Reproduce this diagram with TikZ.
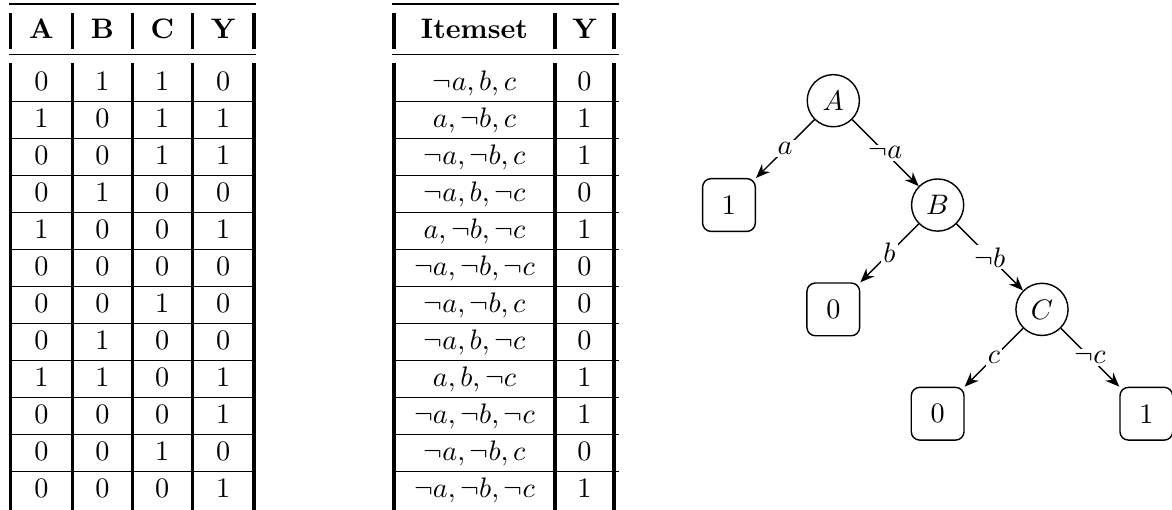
\documentclass[tikz,border=0pt]{standalone}
\usepackage{amsmath, amssymb}
\usepackage{tikz}
\usetikzlibrary{positioning, arrows.meta}
\tikzset{
  cell/.style={anchor=base, inner sep=0pt},
  head/.style={cell, font=\bfseries},
  vbar/.style={draw=black, line width=1.2pt},
  hbar/.style={draw=black, line width=0.4pt},
  toprl/.style={draw=black, line width=0.8pt},
  midrl/.style={draw=black, line width=0.5pt},
  test/.style={circle, draw, line width=0.5pt, minimum size=18.5pt, inner sep=1pt},
  leaf/.style={rectangle, draw, line width=0.5pt, rounded corners=3pt,
    minimum size=18.7pt, inner sep=1pt},
  branch/.style={draw, line width=0.5pt, -{Stealth[length=5pt, width=4pt]}},
  blbl/.style={midway, fill=white, inner sep=0.8pt},
}
% one table row: index, then the cells; baseline follows the row index
\newcommand{\bitrow}[5]{%
  \node[cell] (a#1) at (41.4, {53.6+37*#1}) {#2};
  \node[cell] (b#1) at (102.3, {53.6+37*#1}) {#3};
  \node[cell] (c#1) at (162.3, {53.6+37*#1}) {#4};
  \node[cell] (y#1) at (223.2, {53.6+37*#1}) {#5};
}
\newcommand{\itemrow}[3]{%
  \node[cell] (is#1) at (474.5, {53.6+37*#1}) {$#2$};
  \node[cell] (iy#1) at (584.5, {53.6+37*#1}) {#3};
}

\begin{document}
\begin{tikzpicture}[x=0.3546pt, y=-0.3546pt, >=Stealth]
\useasboundingbox (0,0) rectangle (1172,510);

% Table des valeurs binaires
\draw[toprl] (9,4.2) -- (255.7,4.2);
\draw[midrl] (9,54.3) -- (255.7,54.3);
\node[head] (hA) at (41.4,38.3) {A};
\node[head] (hB) at (102.3,38.3) {B};
\node[head] (hC) at (162.3,38.3) {C};
\node[head] (hY) at (223.2,38.3) {Y};
\draw[vbar] (10.5,13) -- (10.5,49.3);
\draw[vbar] (72.3,13) -- (72.3,49.3);
\draw[vbar] (132.3,13) -- (132.3,49.3);
\draw[vbar] (192.3,13) -- (192.3,49.3);
\draw[vbar] (254,13) -- (254,49.3);
\draw[vbar] (10.5,63.3) -- (10.5,510);
\draw[vbar] (72.3,63.3) -- (72.3,510);
\draw[vbar] (132.3,63.3) -- (132.3,510);
\draw[vbar] (192.3,63.3) -- (192.3,510);
\draw[vbar] (254,63.3) -- (254,510);
\foreach \k in {1,...,11}
  \draw[hbar] (9,{64.7+37*\k}) -- (255.7,{64.7+37*\k});

\bitrow{1}{0}{1}{1}{0}
\bitrow{2}{1}{0}{1}{1}
\bitrow{3}{0}{0}{1}{1}
\bitrow{4}{0}{1}{0}{0}
\bitrow{5}{1}{0}{0}{1}
\bitrow{6}{0}{0}{0}{0}
\bitrow{7}{0}{0}{1}{0}
\bitrow{8}{0}{1}{0}{0}
\bitrow{9}{1}{1}{0}{1}
\bitrow{10}{0}{0}{0}{1}
\bitrow{11}{0}{0}{1}{0}
\bitrow{12}{0}{0}{0}{1}

% Table des itemsets
\draw[toprl] (392.3,4.2) -- (619,4.2);
\draw[midrl] (392.3,54.3) -- (619,54.3);
\node[head] (hIs) at (474.5,38.3) {Itemset};
\node[head] (hIy) at (584.5,38.3) {Y};
\draw[vbar] (394,13) -- (394,49.3);
\draw[vbar] (555,13) -- (555,49.3);
\draw[vbar] (614,13) -- (614,49.3);
\draw[vbar] (394,63.3) -- (394,510);
\draw[vbar] (555,63.3) -- (555,510);
\draw[vbar] (614,63.3) -- (614,510);
\foreach \k in {1,...,11}
  \draw[hbar] (392.3,{64.7+37*\k}) -- (619,{64.7+37*\k});

\itemrow{1}{\neg a, b, c}{0}
\itemrow{2}{a, \neg b, c}{1}
\itemrow{3}{\neg a, \neg b, c}{1}
\itemrow{4}{\neg a, b, \neg c}{0}
\itemrow{5}{a, \neg b, \neg c}{1}
\itemrow{6}{\neg a, \neg b, \neg c}{0}
\itemrow{7}{\neg a, \neg b, c}{0}
\itemrow{8}{\neg a, b, \neg c}{0}
\itemrow{9}{a, b, \neg c}{1}
\itemrow{10}{\neg a, \neg b, \neg c}{1}
\itemrow{11}{\neg a, \neg b, c}{0}
\itemrow{12}{\neg a, \neg b, \neg c}{1}

% Arbre de décision
\node[test] (A) at (833.3,100.7) {$A$};
\node[leaf, on grid, below left=37pt and 37pt of A] (leafA) {1};
\node[test, on grid, below right=37pt and 37pt of A] (B) {$B$};
\node[leaf, on grid, below left=37pt and 37pt of B] (leafB) {0};
\node[test, on grid, below right=37pt and 37pt of B] (C) {$C$};
\node[leaf, on grid, below left=37pt and 37pt of C] (leafC) {0};
\node[leaf, on grid, below right=37pt and 37pt of C] (leafNC) {1};

\draw[branch] (A) -- (leafA) node[blbl] {$a$};
\draw[branch] (A) -- (B) node[blbl] {$\neg a$};
\draw[branch] (B) -- (leafB) node[blbl] {$b$};
\draw[branch] (B) -- (C) node[blbl] {$\neg b$};
\draw[branch] (C) -- (leafC) node[blbl] {$c$};
\draw[branch] (C) -- (leafNC) node[blbl] {$\neg c$};

\end{tikzpicture}
\end{document}
